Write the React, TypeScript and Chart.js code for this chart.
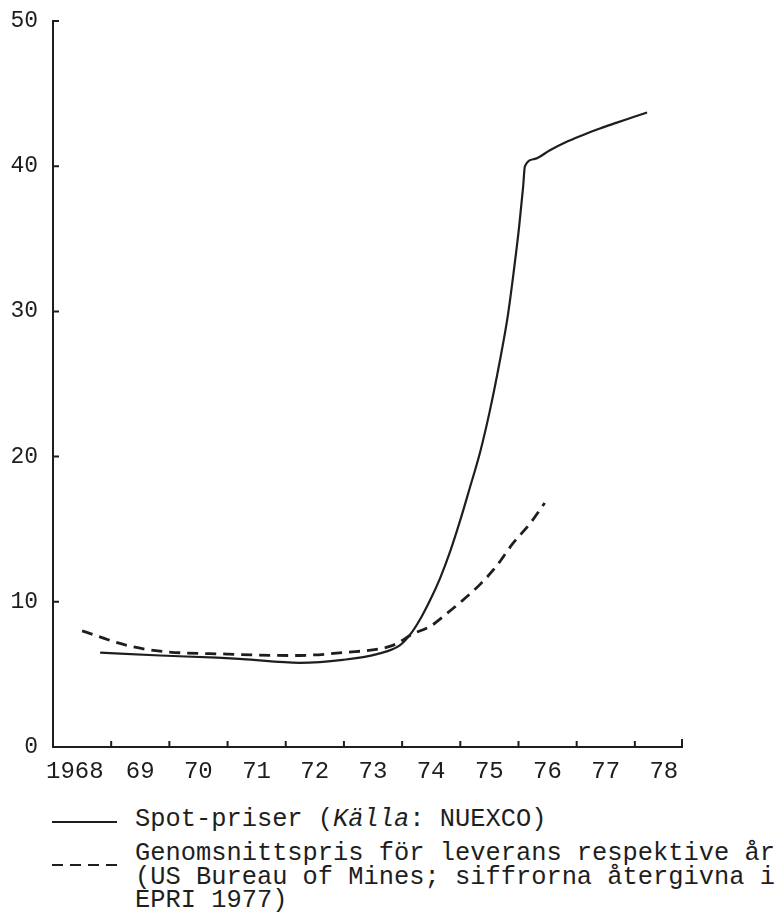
import React, { useEffect, useRef } from "react";
import { Chart, registerables } from "chart.js";

Chart.register(...registerables);

// Spot prices (solid line)
const SPOT_YEARS = [1968.81, 1969.84, 1970.82, 1971.26, 1972.24, 1972.98, 1973.57, 1973.96, 1974.13, 1974.31, 1974.48, 1974.65, 1974.82, 1974.99, 1975.16, 1975.34, 1975.51, 1975.68, 1975.82, 1975.92, 1976.01, 1976.08, 1976.11, 1976.28, 1976.54, 1976.81, 1977.11, 1977.40, 1977.69, 1977.95, 1978.21];
const SPOT_VALUES = [6.5, 6.3, 6.15, 6.05, 5.8, 6.0, 6.4, 7.0, 7.7, 8.8, 10.1, 11.6, 13.4, 15.5, 17.8, 20.3, 23.2, 26.6, 29.8, 32.8, 35.8, 38.6, 40.0, 40.5, 41.1, 41.65, 42.15, 42.6, 43.0, 43.35, 43.7];

// Average price for delivery in respective year (dashed line)
const AVG_YEARS = [1968.5, 1969.27, 1969.84, 1970.99, 1972.12, 1972.98, 1973.84, 1974.19, 1974.48, 1974.77, 1975.04, 1975.34, 1975.63, 1975.9, 1976.2, 1976.45];
const AVG_VALUES = [8.0, 7.0, 6.6, 6.4, 6.3, 6.5, 7.0, 7.8, 8.3, 9.2, 10.1, 11.2, 12.5, 14.0, 15.4, 16.8];

const X_TICK_LABELS = ["1968 ", "69", "70", "71", "72", "73", "74", "75", "76", "77", "78"];
const Y_TICKS = [0, 10, 20, 30, 40, 50];

const INK = "#1e1e1e";
const MONO = "'Liberation Mono', 'Courier New', monospace";

const inwardTicks = {
  id: "inwardTicks",
  afterDraw(chart: any) {
    const { ctx, scales } = chart;
    const x = scales.x;
    const y = scales.y;
    ctx.save();
    ctx.strokeStyle = INK;
    ctx.lineWidth = 2;
    ctx.beginPath();
    for (let v = 1969; v <= 1978; v++) {
      const px = x.getPixelForValue(v);
      ctx.moveTo(px, y.bottom);
      ctx.lineTo(px, y.bottom - 6);
    }
    ctx.moveTo(x.right, y.bottom);
    ctx.lineTo(x.right, y.bottom - 8);
    for (const v of Y_TICKS) {
      if (v === 0) continue;
      const py = y.getPixelForValue(v);
      ctx.moveTo(x.left, py);
      ctx.lineTo(x.left + 6, py);
    }
    ctx.stroke();
    ctx.restore();
  },
};

export default function App() {
  const ref = useRef<HTMLCanvasElement>(null);

  useEffect(() => {
    if (!ref.current) return;
    const chart = new Chart(ref.current, {
      type: "line",
      data: {
        datasets: [
          {
            label: "Spot-priser",
            data: SPOT_YEARS.map((x, i) => ({ x, y: SPOT_VALUES[i] })),
            borderColor: INK,
            borderWidth: 2.2,
            pointRadius: 0,
            cubicInterpolationMode: "monotone",
            fill: false,
          },
          {
            label: "Genomsnittspris",
            data: AVG_YEARS.map((x, i) => ({ x, y: AVG_VALUES[i] })),
            borderColor: INK,
            borderWidth: 2.8,
            borderDash: [11, 7],
            pointRadius: 0,
            cubicInterpolationMode: "monotone",
            fill: false,
          },
        ],
      },
      options: {
        animation: false,
        responsive: false,
        maintainAspectRatio: false,
        layout: { padding: { top: 21, right: 94, left: 0, bottom: 0 } },
        plugins: { legend: { display: false }, tooltip: { enabled: false } },
        scales: {
          x: {
            type: "linear",
            min: 1968,
            max: 1978.81,
            afterFit: (s: any) => {
              s.height = 53;
              s.paddingLeft = 0;
              s.paddingRight = 0;
            },
            grid: { display: false, drawTicks: false },
            border: { display: true, color: INK, width: 2 },
            ticks: {
              stepSize: 1,
              includeBounds: false,
              autoSkip: false,
              maxRotation: 0,
              labelOffset: 29,
              padding: 10,
              color: INK,
              font: { family: MONO, size: 24 },
              callback: (v: any) => X_TICK_LABELS[Math.round(Number(v)) - 1968] ?? "",
            },
          },
          y: {
            type: "linear",
            min: 0,
            max: 50,
            afterFit: (s: any) => {
              s.width = 53;
              s.paddingTop = 0;
              s.paddingBottom = 0;
            },
            grid: { display: false, drawTicks: false },
            border: { display: true, color: INK, width: 2 },
            ticks: {
              stepSize: 10,
              padding: 15,
              color: INK,
              font: { family: MONO, size: 23 },
            },
          },
        },
      },
      plugins: [inwardTicks],
    });
    return () => chart.destroy();
  }, []);

  const textStyle: React.CSSProperties = {
    position: "absolute",
    left: 135,
    fontFamily: MONO,
    fontSize: 25.4,
    color: INK,
    whiteSpace: "pre",
  };

  const dash: React.CSSProperties = { width: 11, height: 2, background: INK };

  return (
    <div style={{ position: "absolute", left: 0, top: 0, width: 776, height: 914, background: "#fff", overflow: "hidden" }}>
      <canvas ref={ref} width={776} height={800} style={{ position: "absolute", left: 0, top: 0 }} />
      <div style={{ position: "absolute", left: 52, top: 821, width: 65, borderTop: `2px solid ${INK}` }} />
      <div style={{ position: "absolute", left: 52, top: 864, width: 65, display: "flex", justifyContent: "space-between" }}>
        <div style={dash} />
        <div style={dash} />
        <div style={dash} />
        <div style={dash} />
      </div>
      <div style={{ ...textStyle, top: 806, lineHeight: "28px" }}>
        Spot-priser (<i>Källa</i>: NUEXCO)
      </div>
      <div style={{ ...textStyle, top: 842, lineHeight: "23.5px" }}>
        {"Genomsnittspris för leverans respektive år\n(US Bureau of Mines; siffrorna återgivna i\nEPRI 1977)"}
      </div>
    </div>
  );
}
